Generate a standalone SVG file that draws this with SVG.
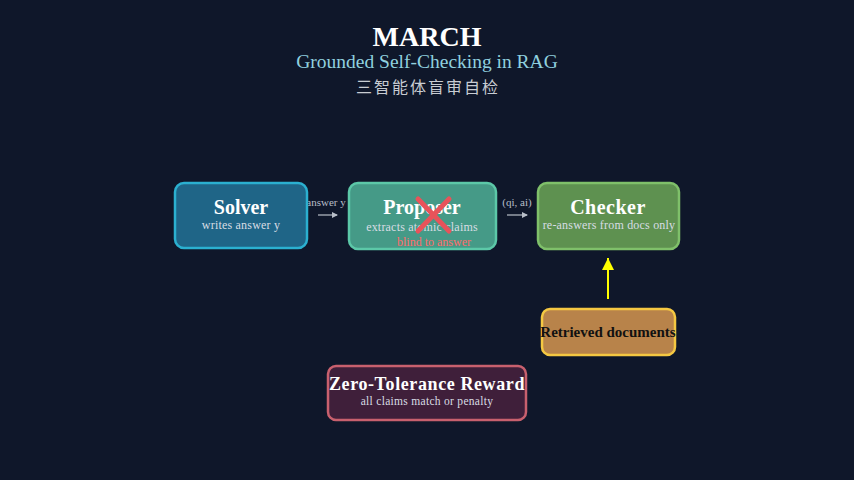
<svg xmlns="http://www.w3.org/2000/svg" width="854" height="480" viewBox="0 0 854 480">
<style>
.t{font-family:"Liberation Serif","Times New Roman",serif;text-anchor:middle}
.h{font-weight:bold;fill:#ffffff;font-size:20px}
.s{fill:#d8dde4;font-size:12px;letter-spacing:0.2px}
.lbl{font-family:"Liberation Serif",serif;fill:#b8bec8;font-size:11px;text-anchor:middle}
.box{stroke-width:2.5}
</style>
<defs>
<marker id="ah" markerWidth="6" markerHeight="6" refX="5" refY="3" orient="auto" markerUnits="userSpaceOnUse">
<path d="M0,0 L6,3 L0,6 z" fill="#b8bec8"/>
</marker>
<marker id="ay" markerWidth="14" markerHeight="12" refX="12" refY="6" orient="auto" markerUnits="userSpaceOnUse">
<path d="M0,0 L12,6 L0,12 z" fill="#ffff00"/>
</marker>
</defs>
<rect width="854" height="480" fill="#0f172a"/>
<g id="title">
<text class="t" x="427" y="46" font-size="28" font-weight="bold" fill="#ffffff">MARCH</text>
<text class="t" x="427" y="68" font-size="19.5" fill="#8fd0df">Grounded Self-Checking in RAG</text>
<text x="428" y="93" font-size="16" fill="#c8ccd2" text-anchor="middle" font-family="'Noto Sans CJK SC',sans-serif" letter-spacing="2">三智能体盲审自检</text>
</g>
<g id="connectors">
<text class="lbl" x="326" y="206">answer y</text>
<line x1="318" y1="215" x2="337" y2="215" stroke="#b8bec8" stroke-width="1.2" marker-end="url(#ah)"/>
<text class="lbl" x="517" y="206">(qi, ai)</text>
<line x1="507" y1="215" x2="527" y2="215" stroke="#b8bec8" stroke-width="1.2" marker-end="url(#ah)"/>
<line x1="608" y1="299" x2="608" y2="258" stroke="#ffff00" stroke-width="2" marker-end="url(#ay)"/>
</g>
<g id="solver">
<rect class="box" x="175" y="183" width="132" height="65" rx="9" fill="#1f6587" stroke="#2bb0d0"/>
<text class="t h" x="241" y="214">Solver</text>
<text class="t s" x="241" y="229">writes answer y</text>
</g>
<g id="proposer">
<rect class="box" x="349" y="183" width="147" height="66" rx="9" fill="#459a87" stroke="#5cc8a8"/>
<text class="t h" x="422" y="214">Proposer</text>
<text class="t s" x="422" y="231">extracts atomic claims</text>
<text class="t" x="434" y="246" font-size="12" fill="#ff6b6b">blind to answer</text>
<g stroke="#e8535a" stroke-width="5" stroke-linecap="round">
<line x1="418" y1="199" x2="449" y2="231"/>
<line x1="449" y1="199" x2="418" y2="231"/>
</g>
</g>
<g id="checker">
<rect class="box" x="538" y="183" width="141" height="66" rx="9" fill="#5e9150" stroke="#7fc06a"/>
<text class="t h" x="608" y="214" letter-spacing="0.5">Checker</text>
<text class="t s" x="609" y="229">re-answers from docs only</text>
</g>
<g id="docs">
<rect class="box" x="542" y="309" width="133" height="46" rx="8" fill="#b8834a" stroke="#f5c842"/>
<text class="t" x="608" y="337" font-size="15" font-weight="bold" fill="#111111">Retrieved documents</text>
</g>
<g id="reward">
<rect class="box" x="328" y="366" width="198" height="54" rx="8" fill="#3f1f3a" stroke="#c8606e"/>
<text class="t" x="427" y="390" font-size="18" font-weight="bold" fill="#ffffff" letter-spacing="0.6">Zero-Tolerance Reward</text>
<text class="t" x="427" y="405" font-size="11.5" fill="#d8dde4" letter-spacing="0.3">all claims match or penalty</text>
</g>
</svg>
